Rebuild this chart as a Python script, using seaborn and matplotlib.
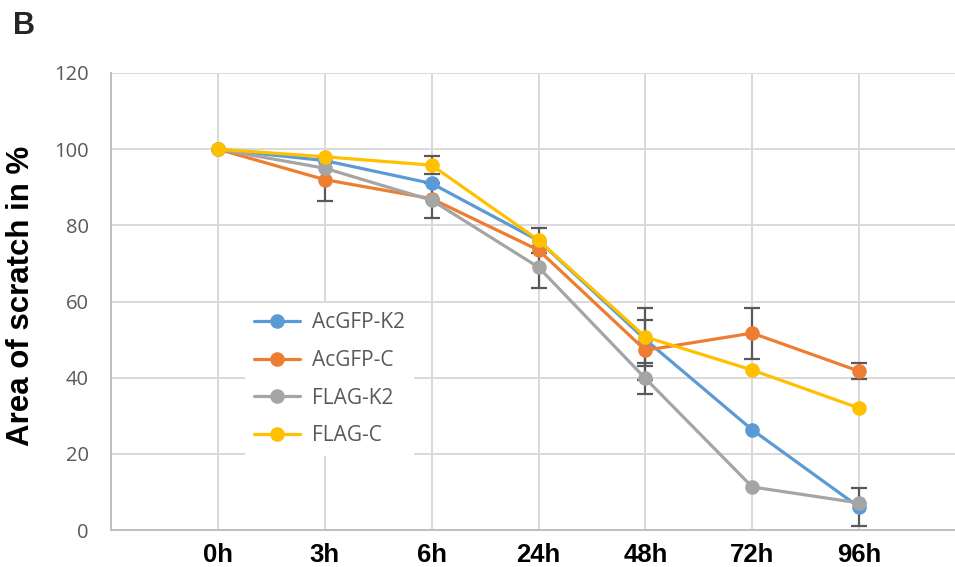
import numpy as np
import pandas as pd
import matplotlib
matplotlib.use("Agg")
import matplotlib.pyplot as plt
import seaborn as sns

# Time points of the scratch assay
timepoints = ["0h", "3h", "6h", "24h", "48h", "72h", "96h"]

# Remaining scratch area (% of 0h) for each construct
series_names = ["AcGFP-K2", "AcGFP-C", "FLAG-K2", "FLAG-C"]
acgfp_k2 = [100, 97, 91, 76, 50, 26.3, 6]
acgfp_c = [100, 92, 87, 73.5, 47.2, 51.7, 41.7]
flag_k2 = [100, 95, 86.6, 69, 39.8, 11.3, 7.1]
flag_c = [100, 98, 95.8, 76.1, 50.7, 42, 32]

# Error bars (0 = no bar shown)
acgfp_k2_err = [0, 0, 0, 0, 0, 0, 5]
acgfp_c_err = [0, 5.6, 0, 0, 7.9, 6.7, 2.1]
flag_k2_err = [0, 0, 4.6, 5.5, 4.0, 0, 0]
flag_c_err = [0, 0, 2.3, 3.3, 7.6, 0, 0]

y_ticks = [0, 20, 40, 60, 80, 100, 120]

colors = ["#5B9BD5", "#ED7D31", "#A5A5A5", "#FFC000"]

values = [acgfp_k2, acgfp_c, flag_k2, flag_c]
errors = [acgfp_k2_err, acgfp_c_err, flag_k2_err, flag_c_err]

pos = np.arange(len(timepoints))
df = pd.DataFrame({
    "pos": np.tile(pos, len(series_names)),
    "value": np.concatenate(values),
    "series": np.repeat(series_names, len(timepoints)),
})

sns.set_style("white")
plt.rcParams["font.family"] = ["Open Sans", "DejaVu Sans"]

fig = plt.figure(figsize=(9.55, 5.67), dpi=100)
ax = fig.add_axes([111 / 955, 37 / 567, 855 / 955, 457 / 567])

# Error bars sit beneath the lines and markers
for v, e in zip(values, errors):
    v = np.asarray(v, float)
    e = np.asarray(e, float)
    m = e > 0
    ax.errorbar(pos[m], v[m], yerr=e[m], fmt="none", ecolor="#595959",
                elinewidth=1.6, capsize=6, capthick=1.6, zorder=1.8)

sns.lineplot(data=df, x="pos", y="value", hue="series", hue_order=series_names,
             palette=colors, marker="o", markersize=10.5, markeredgewidth=0,
             linewidth=2.3, legend=False, ax=ax, zorder=2)

ax.set_xlim(-1, 7)
ax.set_ylim(0, 120)
ax.set_yticks(y_ticks)
ax.set_xticks(pos)
ax.set_xticklabels(timepoints, fontsize=18.5, fontweight="bold", color="black",
                   family=["Liberation Sans", "DejaVu Sans"])
ax.tick_params(axis="x", length=0, pad=9)
ax.tick_params(axis="y", length=0, pad=16, labelsize=14.5, labelcolor="#595959")

ax.grid(True, color="#d9d9d9", linewidth=1.4)
ax.set_axisbelow(True)
for side in ["top", "right"]:
    ax.spines[side].set_visible(False)
for side in ["left", "bottom"]:
    ax.spines[side].set_color("#bfbfbf")
    ax.spines[side].set_linewidth(1.4)

ax.set_xlabel("")
ax.set_ylabel("Area of scratch in %", fontsize=22.5, fontweight="bold", color="black",
              family=["Liberation Sans", "DejaVu Sans"])
ax.yaxis.set_label_coords(-0.088, 0.512)

handles = [plt.Line2D([], [], color=c, marker="o", markersize=10.5,
                      markeredgewidth=0, linewidth=2.3) for c in colors]
leg = ax.legend(handles, series_names, loc="upper left",
                bbox_to_anchor=(245 / 955, 1 - 303 / 567),
                bbox_transform=fig.transFigure, borderaxespad=0,
                frameon=True, fancybox=False, framealpha=1, edgecolor="none",
                facecolor="white", fontsize=15, labelcolor="#595959",
                handlelength=2.2, handletextpad=0.55, labelspacing=0.8,
                borderpad=0.45)

fig.text(13 / 955, 1 - 11 / 567, "B", fontsize=22, fontweight="bold",
         family=["Liberation Sans", "DejaVu Sans"], ha="left", va="top")

fig.savefig("out.png", dpi=100)
